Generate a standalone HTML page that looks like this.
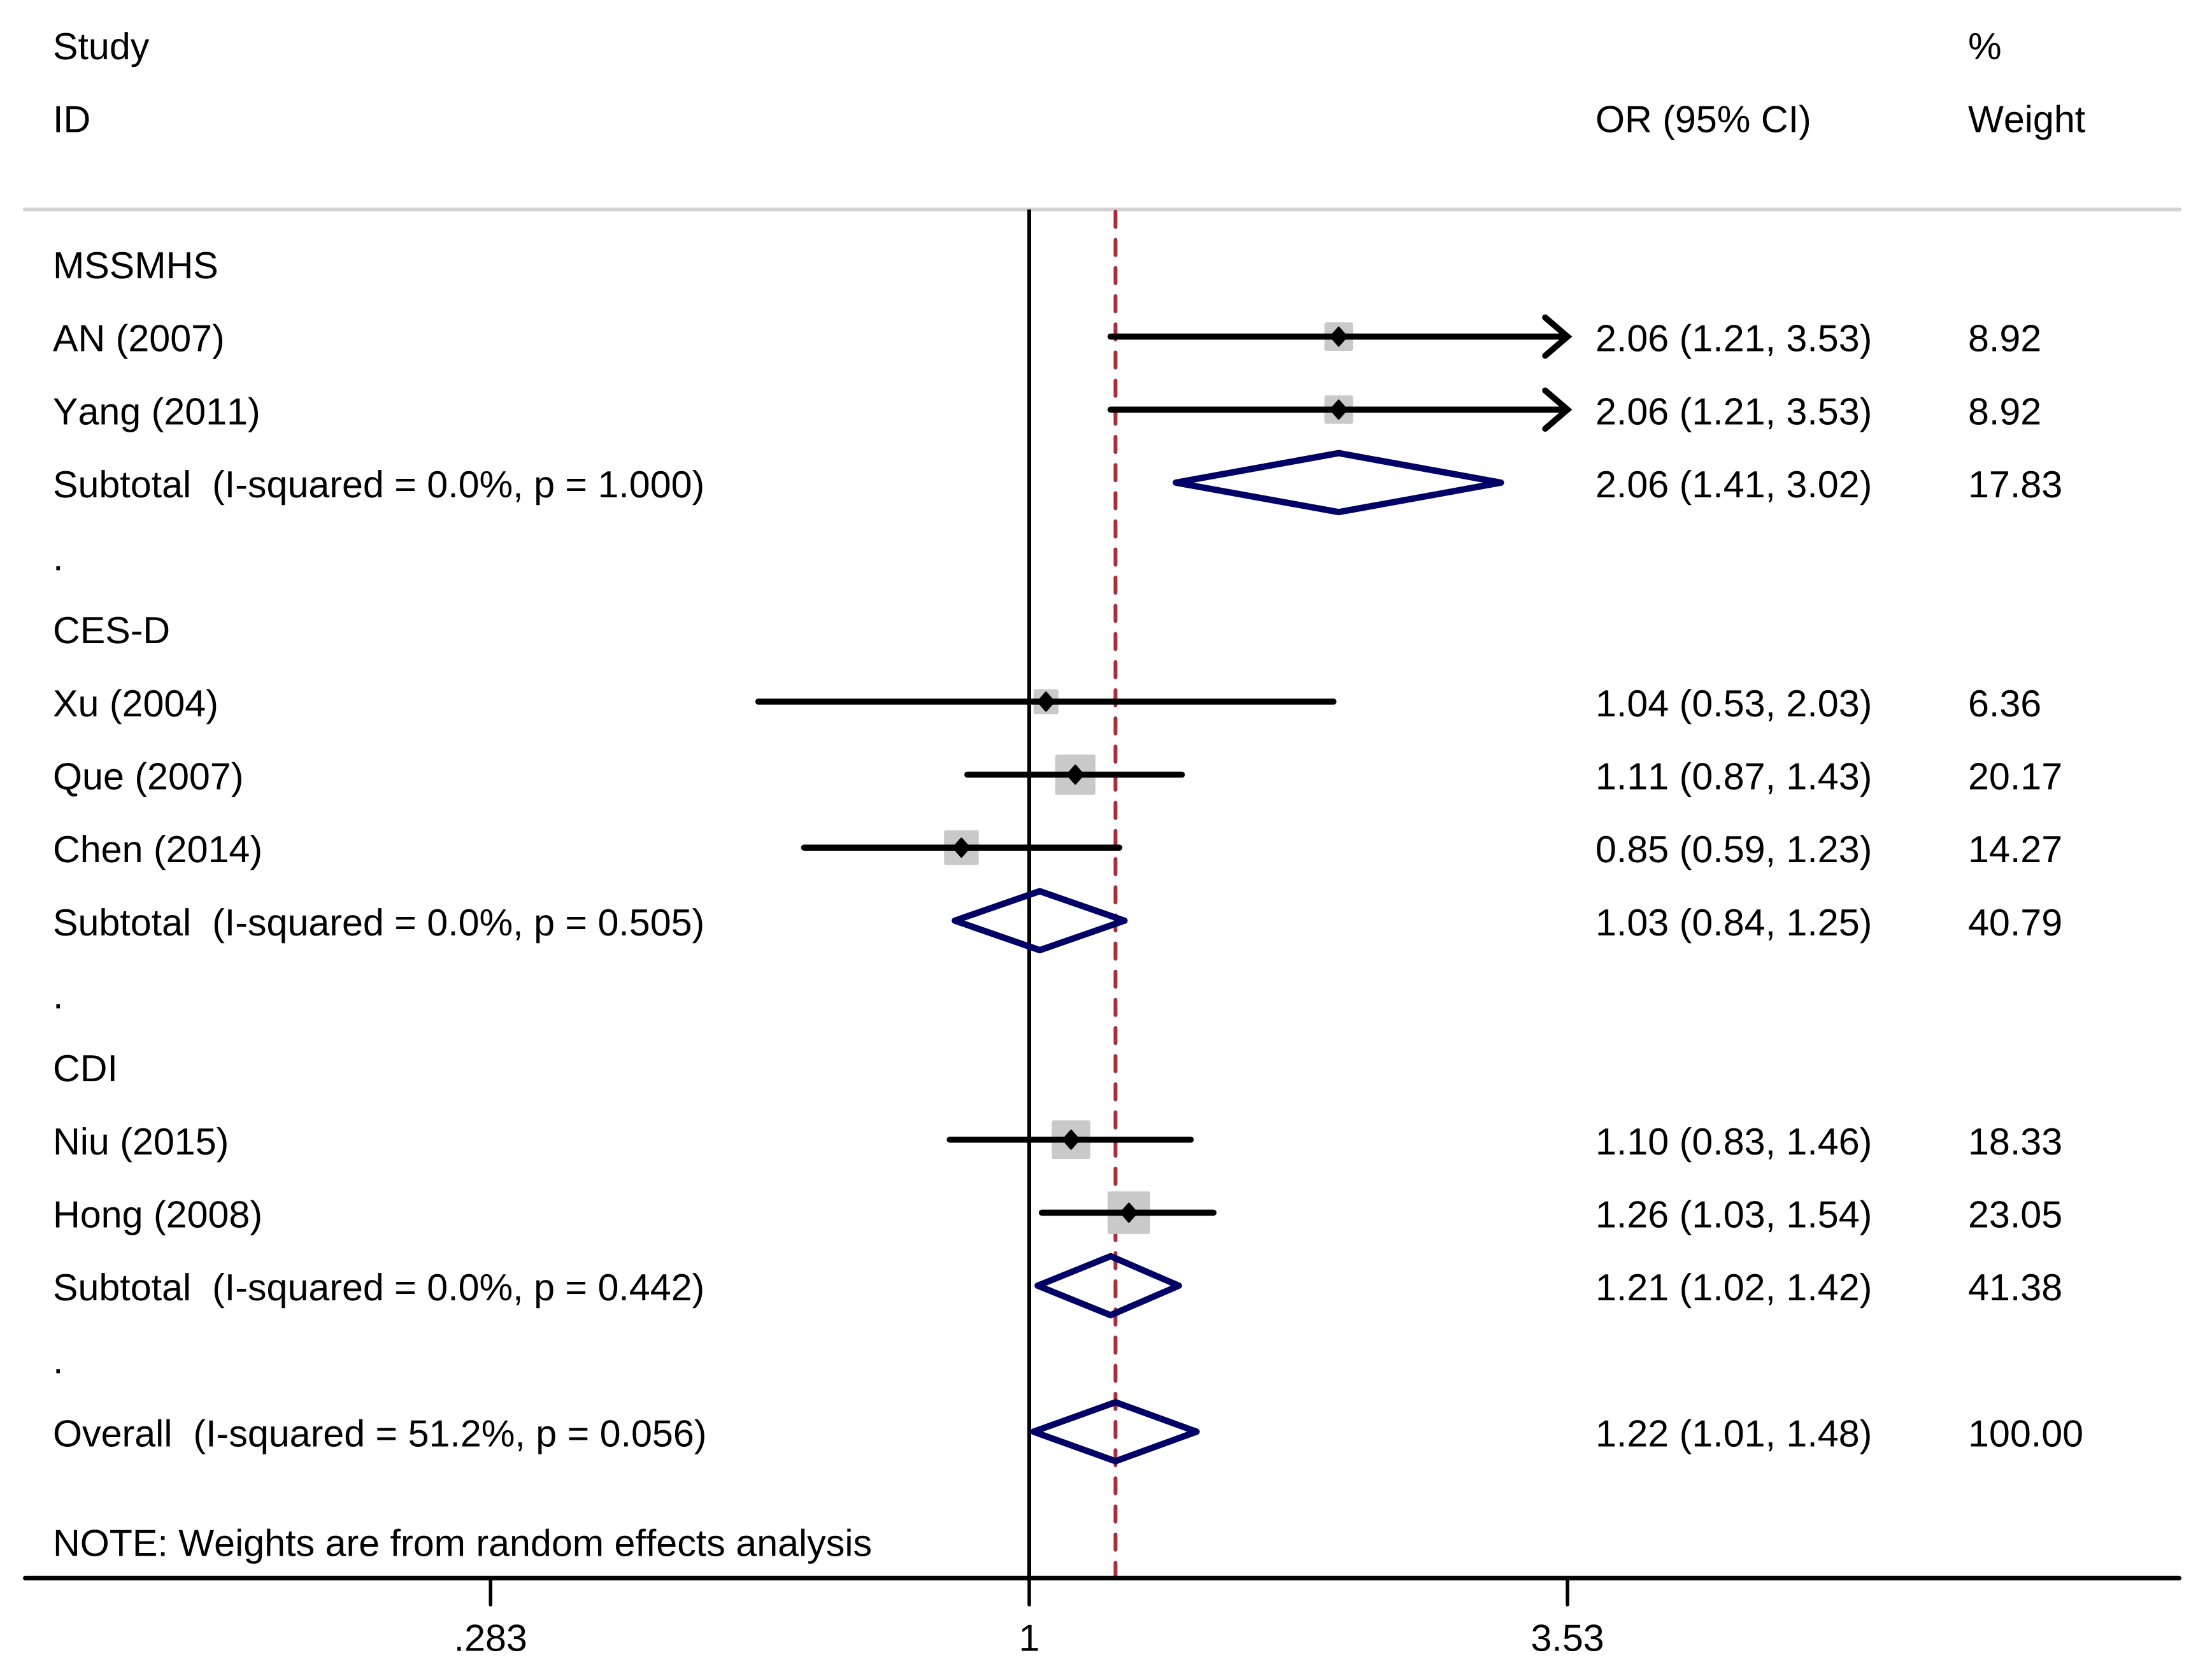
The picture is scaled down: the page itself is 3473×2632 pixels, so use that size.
<!DOCTYPE html>
<html lang="en">
<head>
<meta charset="utf-8">
<title>Forest plot</title>
<style>
html,body{margin:0;padding:0;background:#fff;}
svg{display:block;}
text{font-family:"Liberation Sans",Arial,sans-serif;font-size:59.2px;fill:#000;white-space:pre;text-rendering:geometricPrecision;font-kerning:none;}
</style>
</head>
<body>
<svg id="chart" xmlns="http://www.w3.org/2000/svg" width="3473" height="2632" viewBox="0 0 3473 2632">
<rect x="0" y="0" width="3473" height="2632" fill="#ffffff"/>
<line x1="39" y1="329" x2="3422" y2="329" stroke="#d3d3d3" stroke-width="6" stroke-linecap="round"/>
<g id="marks"></g>
<g>
<text x="83" y="93">Study</text>
<text x="83" y="207.65">ID</text>
<text x="83" y="436.95">MSSMHS</text>
<text x="83" y="551.6">AN (2007)</text>
<text x="83" y="666.25">Yang (2011)</text>
<text x="83" y="780.9" xml:space="preserve">Subtotal  (I-squared = 0.0%, p = 1.000)</text>
<text x="83" y="895.55">.</text>
<text x="83" y="1010.2">CES-D</text>
<text x="83" y="1124.85">Xu (2004)</text>
<text x="83" y="1239.5">Que (2007)</text>
<text x="83" y="1354.15">Chen (2014)</text>
<text x="83" y="1468.8" xml:space="preserve">Subtotal  (I-squared = 0.0%, p = 0.505)</text>
<text x="83" y="1583.45">.</text>
<text x="83" y="1698.1">CDI</text>
<text x="83" y="1812.75">Niu (2015)</text>
<text x="83" y="1927.4">Hong (2008)</text>
<text x="83" y="2042.05" xml:space="preserve">Subtotal  (I-squared = 0.0%, p = 0.442)</text>
<text x="83" y="2156.7">.</text>
<text x="83" y="2271.35" xml:space="preserve">Overall  (I-squared = 51.2%, p = 0.056)</text>
<text x="83" y="2443.3">NOTE: Weights are from random effects analysis</text>
</g>
<g>
<text x="2505" y="207.65">OR (95% CI)</text>
<text x="2505" y="551.6">2.06 (1.21, 3.53)</text>
<text x="2505" y="666.25">2.06 (1.21, 3.53)</text>
<text x="2505" y="780.9">2.06 (1.41, 3.02)</text>
<text x="2505" y="1124.85">1.04 (0.53, 2.03)</text>
<text x="2505" y="1239.5">1.11 (0.87, 1.43)</text>
<text x="2505" y="1354.15">0.85 (0.59, 1.23)</text>
<text x="2505" y="1468.8">1.03 (0.84, 1.25)</text>
<text x="2505" y="1812.75">1.10 (0.83, 1.46)</text>
<text x="2505" y="1927.4">1.26 (1.03, 1.54)</text>
<text x="2505" y="2042.05">1.21 (1.02, 1.42)</text>
<text x="2505" y="2271.35">1.22 (1.01, 1.48)</text>
</g>
<g>
<text x="3090" y="93">%</text>
<text x="3090" y="207.65">Weight</text>
<text x="3090" y="551.6">8.92</text>
<text x="3090" y="666.25">8.92</text>
<text x="3090" y="780.9">17.83</text>
<text x="3090" y="1124.85">6.36</text>
<text x="3090" y="1239.5">20.17</text>
<text x="3090" y="1354.15">14.27</text>
<text x="3090" y="1468.8">40.79</text>
<text x="3090" y="1812.75">18.33</text>
<text x="3090" y="1927.4">23.05</text>
<text x="3090" y="2042.05">41.38</text>
<text x="3090" y="2271.35">100.00</text>
</g>
<g id="axis"></g>
</svg>
<script>
var studyRows = [4, 5, 9, 10, 11, 15, 16];
var studyOr = [2.065, 2.065, 1.04, 1.114, 0.853, 1.103, 1.263];
var studyLow = [1.21, 1.21, 0.53, 0.865, 0.59, 0.83, 1.03];
var studyHigh = [3.53, 3.53, 2.04, 1.43, 1.235, 1.46, 1.54];
var studyWeight = [8.92, 8.92, 6.36, 20.17, 14.27, 18.33, 23.05];

var poolRows = [6, 12, 17, 19];
var poolOr = [2.065, 1.025, 1.21, 1.224];
var poolLow = [1.41, 0.84, 1.02, 1.01];
var poolHigh = [3.02, 1.25, 1.42, 1.48];

var overallEffect = 1.224;
var referenceValue = 1;
var tickValues = [0.283, 1, 3.53];
var tickLabels = [".283", "1", "3.53"];

var SVG_NS = "http://www.w3.org/2000/svg";
var marks = document.getElementById("marks");
var axis = document.getElementById("axis");

function xScale(v) { return 1616 + 670 * Math.log(v); }
function yRow(i) { return 70 + 114.65 * i; }
var axisMax = tickValues[tickValues.length - 1];

function make(parent, tag, attrs) {
  var el = document.createElementNS(SVG_NS, tag);
  for (var k in attrs) { el.setAttribute(k, attrs[k]); }
  parent.appendChild(el);
  return el;
}

var el;
el = make(marks, "line", {x1: xScale(referenceValue), x2: xScale(referenceValue), y1: 329, y2: 2478, stroke: "#000", "stroke-width": 6});



el = make(marks, "line", {x1: xScale(overallEffect), x2: xScale(overallEffect), y1: 332.4, y2: 2476, stroke: "#a6303c", "stroke-width": 6, "stroke-dasharray": "24 20.2", "stroke-linecap": "round"});



studyOr.forEach(function (v, i) {
  var side = 8 + 12.3 * Math.sqrt(studyWeight[i]);
  var box = make(marks, "rect", {x: xScale(v) - side / 2, y: yRow(studyRows[i]) - side / 2, width: side, height: side, rx: 3, fill: "#c9c9c9"});
  
  
});

studyOr.forEach(function (v, i) {
  var y = yRow(studyRows[i]);
  var hi = Math.min(studyHigh[i], axisMax);
  var ci = make(marks, "line", {x1: xScale(studyLow[i]), x2: xScale(hi), y1: y, y2: y, stroke: "#000", "stroke-width": 9.6, "stroke-linecap": "round"});
  
  
  if (studyHigh[i] >= axisMax) {
    var tip = xScale(hi);
    var head = make(marks, "polyline", {points: (tip - 35) + "," + (y - 30) + " " + tip + "," + y + " " + (tip - 35) + "," + (y + 30), fill: "none", stroke: "#000", "stroke-width": 9.6, "stroke-linecap": "round", "stroke-linejoin": "miter"});
    
    
  }
  var cx = xScale(v);
  var dot = make(marks, "polygon", {points: (cx - 12.3) + "," + y + " " + cx + "," + (y - 14) + " " + (cx + 12.3) + "," + y + " " + cx + "," + (y + 14), fill: "#000", stroke: "#000", "stroke-width": 3.5, "stroke-linejoin": "round"});
  
  
});

poolOr.forEach(function (v, i) {
  var y = yRow(poolRows[i]);
  var pts = xScale(poolLow[i]) + "," + y + " " + xScale(v) + "," + (y - 46.3) + " " + xScale(poolHigh[i]) + "," + y + " " + xScale(v) + "," + (y + 46.3);
  var dia = make(marks, "polygon", {points: pts, fill: "none", stroke: "#000066", "stroke-width": 10, "stroke-linejoin": "round"});
  
  
});

el = make(axis, "line", {x1: 39.5, x2: 3421.5, y1: 2478.3, y2: 2478.3, stroke: "#000", "stroke-width": 7, "stroke-linecap": "round"});



tickValues.forEach(function (v, i) {
  var tick = make(axis, "line", {x1: xScale(v), x2: xScale(v), y1: 2478, y2: 2520, stroke: "#000", "stroke-width": 5.5, "stroke-linecap": "round"});
  
  
  var lab = make(axis, "text", {x: xScale(v), y: 2592.3, "text-anchor": "middle"});
  lab.textContent = tickLabels[i];
  
  
});
</script>
</body>
</html>
